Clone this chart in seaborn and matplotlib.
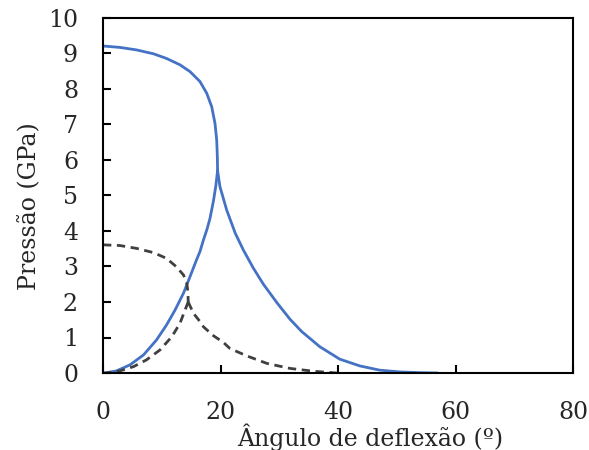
import numpy as np
import pandas as pd
import seaborn as sns
import matplotlib.pyplot as plt

# blue (solid) series, three branches meeting at the cusp near 19.5 deg
blue_top_x = [0, 2.9, 5.7, 8.6, 10.8, 13.1, 14.8, 16.5, 17.65, 18.5, 19.06, 19.35, 19.46, 19.5]
blue_top_y = [9.21, 9.17, 9.10, 8.99, 8.86, 8.68, 8.49, 8.21, 7.88, 7.5, 7.03, 6.56, 6.09, 5.7]
blue_up_x = [0, 0.3, 2.3, 4.6, 6.9, 9.1, 10.8, 12.25, 13.7, 14.8, 15.9, 16.5, 17.1, 17.7,
             18.2, 18.8, 19.2, 19.5]
blue_up_y = [0, 0, 0.06, 0.23, 0.51, 0.93, 1.35, 1.77, 2.25, 2.71, 3.18, 3.42, 3.75, 4.05,
             4.35, 4.85, 5.27, 5.7]
blue_down_x = [19.5, 19.9, 21.05, 22.5, 23.9, 25.6, 27.3, 29.6, 31.8, 33.8, 36.9, 40.3, 43.7,
               47.1, 50.6, 54, 57]
blue_down_y = [5.7, 5.25, 4.59, 3.94, 3.46, 2.95, 2.5, 1.98, 1.52, 1.17, 0.74, 0.39, 0.2,
               0.08, 0.03, 0.01, 0]

# dashed series, cusp near 14.5 deg
dash_top_x = [0, 2.9, 5.7, 8.6, 10.8, 12.5, 13.7, 14.25, 14.45, 14.5]
dash_top_y = [3.61, 3.59, 3.51, 3.39, 3.23, 2.99, 2.76, 2.53, 2.3, 2.0]
dash_up_x = [0, 0.6, 2.9, 5.2, 7.4, 9.7, 11.7, 13.1, 13.95, 14.5]
dash_up_y = [0, 0, 0.06, 0.18, 0.37, 0.65, 1.02, 1.4, 1.77, 2.0]
dash_down_x = [14.5, 15.4, 16.5, 17.1, 18.8, 20.5, 21.6, 24.5, 27.9, 31.8, 35.8, 39.8]
dash_down_y = [2.0, 1.68, 1.45, 1.30, 1.05, 0.86, 0.69, 0.48, 0.27, 0.13, 0.05, 0]

sns.set_style("white")
plt.rcParams['font.family'] = ['DejaVu Serif']

fig = plt.figure(figsize=(5.89, 4.5), dpi=100)
ax = fig.add_axes([0.1749, 0.1711, 0.798, 0.789])

for xs, ys in [(blue_top_x, blue_top_y), (blue_up_x, blue_up_y), (blue_down_x, blue_down_y)]:
    sns.lineplot(x=xs, y=ys, sort=False, estimator=None, color="#4472C4", lw=2.0, ax=ax)
for xs, ys in [(dash_top_x, dash_top_y), (dash_up_x, dash_up_y), (dash_down_x, dash_down_y)]:
    sns.lineplot(x=xs, y=ys, sort=False, estimator=None, color="#404040", lw=2.0,
                 linestyle=(0, (3.0, 2.0)), ax=ax)

ax.set_xlim(0, 80)
ax.set_ylim(0, 10)
ax.set_xticks([0, 20, 40, 60, 80])
ax.set_yticks(range(0, 11))
for s in ax.spines.values():
    s.set_color("black")
    s.set_linewidth(1.5)
ax.tick_params(direction="in", length=6, width=1.5, labelsize=17, color="black",
               bottom=True, left=True, top=False, right=False)
ax.tick_params(axis="x", pad=20, bottom=True)
ax.tick_params(axis="y", pad=18)
ax.set_xlabel("Ângulo de deflexão (º)", fontsize=17)
ax.set_ylabel("Pressão (GPa)", fontsize=17)
ax.xaxis.set_label_coords(0.568, -0.142)
ax.yaxis.set_label_coords(-0.132, 0.47)

fig.savefig("out.png", dpi=100)
